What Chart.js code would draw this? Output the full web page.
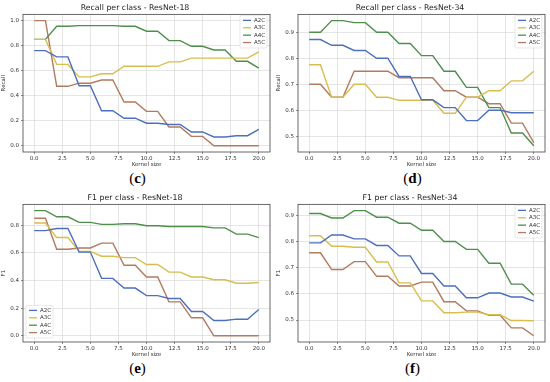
<!DOCTYPE html>
<html>
<head>
<meta charset="utf-8">
<script src="https://cdn.jsdelivr.net/npm/chart.js@4"></script>
<style>
  body { margin: 0; background: #fff; }
  .panel { position: absolute; width: 275px; height: 191px; }
  .panel canvas { position: absolute; left: 0; top: 0; }
  .tag { position: absolute; width: 275px; text-align: center; top: 170px; line-height: 16px;
         font-family: "Liberation Serif", serif; font-size: 15px; color: #000; }
</style>
</head>
<body>
<div class="panel" style="left:0;top:0"><canvas id="c1" width="275" height="168"></canvas><div class="tag">(<b>c</b>)</div></div>
<div class="panel" style="left:275px;top:0"><canvas id="c2" width="275" height="168"></canvas><div class="tag">(<b>d</b>)</div></div>
<div class="panel" style="left:0;top:190px"><canvas id="c3" width="275" height="168"></canvas><div class="tag">(<b>e</b>)</div></div>
<div class="panel" style="left:275px;top:190px"><canvas id="c4" width="275" height="168"></canvas><div class="tag">(<b>f</b>)</div></div>
<script>
const kernelSizes = [0, 1, 2, 3, 4, 5, 6, 7, 8, 9, 10, 11, 12, 13, 14, 15, 16, 17, 18, 19, 20];
const classes = ['A2C', 'A3C', 'A4C', 'A5C'];
const xTicks = [0, 2.5, 5, 7.5, 10, 12.5, 15, 17.5, 20];
const yTicksUnit = [0, 0.2, 0.4, 0.6, 0.8, 1.0];
const yTicksF1 = [0, 0.2, 0.4, 0.6, 0.8];
const yTicksHigh = [0.5, 0.6, 0.7, 0.8, 0.9];

// Recall - ResNet-18
const recall18A2C = [0.76, 0.76, 0.71, 0.71, 0.48, 0.48, 0.28, 0.28, 0.22, 0.22, 0.18, 0.18, 0.17, 0.17, 0.11, 0.11, 0.07, 0.07, 0.08, 0.08, 0.13];
const recall18A3C = [0.85, 0.85, 0.65, 0.65, 0.55, 0.55, 0.575, 0.575, 0.635, 0.635, 0.635, 0.635, 0.67, 0.67, 0.70, 0.70, 0.70, 0.70, 0.70, 0.70, 0.75];
const recall18A4C = [0.85, 0.85, 0.955, 0.955, 0.96, 0.96, 0.96, 0.96, 0.955, 0.955, 0.915, 0.915, 0.84, 0.84, 0.795, 0.795, 0.765, 0.765, 0.675, 0.675, 0.62];
const recall18A5C = [1.0, 1.0, 0.475, 0.475, 0.50, 0.50, 0.525, 0.525, 0.35, 0.35, 0.275, 0.275, 0.15, 0.15, 0.075, 0.075, 0, 0, 0, 0, 0];

// Recall - ResNet-34
const recall34A2C = [0.872, 0.872, 0.85, 0.85, 0.83, 0.83, 0.80, 0.80, 0.73, 0.73, 0.64, 0.64, 0.61, 0.61, 0.56, 0.56, 0.60, 0.60, 0.59, 0.59, 0.59];
const recall34A3C = [0.775, 0.775, 0.65, 0.65, 0.70, 0.70, 0.65, 0.65, 0.638, 0.638, 0.638, 0.638, 0.588, 0.588, 0.65, 0.65, 0.675, 0.675, 0.713, 0.713, 0.75];
const recall34A4C = [0.90, 0.90, 0.945, 0.945, 0.937, 0.937, 0.90, 0.90, 0.857, 0.857, 0.81, 0.81, 0.75, 0.75, 0.688, 0.688, 0.61, 0.61, 0.512, 0.512, 0.463];
const recall34A5C = [0.70, 0.70, 0.65, 0.65, 0.75, 0.75, 0.75, 0.75, 0.725, 0.725, 0.725, 0.725, 0.675, 0.675, 0.65, 0.65, 0.625, 0.625, 0.55, 0.55, 0.475];

// F1 - ResNet-18
const f118A2C = [0.76, 0.76, 0.775, 0.775, 0.605, 0.605, 0.415, 0.415, 0.345, 0.345, 0.29, 0.29, 0.27, 0.27, 0.175, 0.175, 0.11, 0.11, 0.12, 0.12, 0.19];
const f118A3C = [0.815, 0.815, 0.71, 0.71, 0.61, 0.61, 0.575, 0.575, 0.565, 0.565, 0.515, 0.515, 0.46, 0.46, 0.425, 0.425, 0.405, 0.405, 0.38, 0.38, 0.385];
const f118A4C = [0.905, 0.905, 0.86, 0.86, 0.82, 0.82, 0.805, 0.805, 0.81, 0.81, 0.795, 0.795, 0.79, 0.79, 0.79, 0.79, 0.78, 0.78, 0.735, 0.735, 0.71];
const f118A5C = [0.85, 0.85, 0.625, 0.625, 0.635, 0.635, 0.67, 0.67, 0.51, 0.51, 0.425, 0.425, 0.245, 0.245, 0.13, 0.13, 0, 0, 0, 0, 0];

// F1 - ResNet-34
const f134A2C = [0.795, 0.795, 0.825, 0.825, 0.81, 0.81, 0.785, 0.785, 0.745, 0.745, 0.678, 0.678, 0.63, 0.63, 0.585, 0.585, 0.603, 0.603, 0.588, 0.588, 0.572];
const f134A3C = [0.822, 0.822, 0.782, 0.782, 0.778, 0.778, 0.722, 0.722, 0.642, 0.642, 0.573, 0.573, 0.528, 0.528, 0.53, 0.53, 0.52, 0.52, 0.498, 0.498, 0.497];
const f134A4C = [0.907, 0.907, 0.89, 0.89, 0.918, 0.918, 0.893, 0.893, 0.87, 0.87, 0.843, 0.843, 0.80, 0.80, 0.77, 0.77, 0.717, 0.717, 0.637, 0.637, 0.595];
const f134A5C = [0.757, 0.757, 0.693, 0.693, 0.723, 0.723, 0.667, 0.667, 0.63, 0.63, 0.645, 0.645, 0.57, 0.57, 0.535, 0.535, 0.518, 0.518, 0.47, 0.47, 0.44];

const colors = ['#4c6fbf', '#d9bd4f', '#4f8f4c', '#b27a5e'];
const font = 'DejaVu Sans';

// axes box like matplotlib spines
const frame = {
    id: 'frame',
    afterDraw(chart) {
        const a = chart.chartArea, ctx = chart.ctx;
        ctx.save();
        ctx.strokeStyle = '#444';
        ctx.lineWidth = 0.8;
        ctx.strokeRect(a.left, a.top, a.right - a.left, a.bottom - a.top);
        ctx.restore();
    }
};

// small legend drawn inside the plot area
const boxLegend = {
    id: 'boxLegend',
    afterDraw(chart, args, opts) {
        const a = chart.chartArea, ctx = chart.ctx;
        const rowH = 7.4, w = 27, h = chart.data.datasets.length * rowH + 3;
        let x = opts.corner === 'bl' ? a.left + 3 : a.right - w - 3;
        let y = opts.corner === 'bl' ? a.bottom - h - 4 : a.top + 1;
        ctx.save();
        ctx.fillStyle = 'rgba(255,255,255,0.85)';
        ctx.strokeStyle = '#d8d8d8';
        ctx.lineWidth = 0.6;
        ctx.beginPath();
        ctx.roundRect(x, y, w, h, 1.5);
        ctx.fill();
        ctx.stroke();
        ctx.font = '5.5px "' + font + '"';
        ctx.textBaseline = 'middle';
        chart.data.datasets.forEach((ds, i) => {
            const yy = y + 5 + i * rowH;
            ctx.strokeStyle = ds.borderColor;
            ctx.lineWidth = 1.3;
            ctx.beginPath();
            ctx.moveTo(x + 3, yy);
            ctx.lineTo(x + 11, yy);
            ctx.stroke();
            ctx.fillStyle = '#333';
            ctx.fillText(ds.label, x + 14, yy);
        });
        ctx.restore();
    }
};

function makeChart(id, title, yTitle, series, yMin, yMax, yTicks, corner) {
    return new Chart(document.getElementById(id), {
        type: 'line',
        data: {
            datasets: series.map((vals, i) => ({
                label: classes[i],
                data: kernelSizes.map((k, j) => ({ x: k, y: vals[j] })),
                borderColor: colors[i],
                borderWidth: 1.4,
                pointRadius: 0,
                tension: 0,
                fill: false
            }))
        },
        options: {
            responsive: false,
            animation: false,
            layout: { padding: { left: 0, right: 5, top: 0, bottom: 0 } },
            plugins: {
                legend: { display: false },
                tooltip: { enabled: false },
                title: {
                    display: true,
                    text: title,
                    color: '#222',
                    font: { family: font, size: 7.8, weight: 'normal' },
                    padding: { top: 3, bottom: 2 }
                },
                boxLegend: { corner: corner }
            },
            scales: {
                x: {
                    type: 'linear',
                    min: -1,
                    max: 21,
                    afterBuildTicks: s => { s.ticks = xTicks.map(v => ({ value: v })); },
                    afterFit: s => { s.height = 16; },
                    grid: { color: '#d4d4d4', lineWidth: 0.6, tickLength: 2, tickColor: '#444' },
                    border: { display: false },
                    ticks: {
                        color: '#333', padding: 1, maxRotation: 0,
                        font: { family: font, size: 5.5 },
                        callback: v => v.toFixed(1)
                    },
                    title: {
                        display: true, text: 'Kernel size', color: '#333',
                        font: { family: font, size: 5.5 }, padding: { top: 0, bottom: 0 }
                    }
                },
                y: {
                    min: yMin,
                    max: yMax,
                    afterBuildTicks: s => { s.ticks = yTicks.map(v => ({ value: v })); },
                    afterFit: s => { s.width = 23; },
                    grid: { color: '#d4d4d4', lineWidth: 0.6, tickLength: 2, tickColor: '#444' },
                    border: { display: false },
                    ticks: {
                        color: '#333', padding: 2,
                        font: { family: font, size: 5.5 },
                        callback: v => v.toFixed(1)
                    },
                    title: {
                        display: true, text: yTitle, color: '#333',
                        font: { family: font, size: 5.5 }, padding: { top: 0, bottom: 2 }
                    }
                }
            }
        },
        plugins: [frame, boxLegend]
    });
}

makeChart('c1', 'Recall per class - ResNet-18', 'Recall',
    [recall18A2C, recall18A3C, recall18A4C, recall18A5C], -0.05, 1.05, yTicksUnit, 'tr');
makeChart('c2', 'Recall per class - ResNet-34', 'Recall',
    [recall34A2C, recall34A3C, recall34A4C, recall34A5C], 0.439, 0.969, yTicksHigh, 'tr');
makeChart('c3', 'F1 per class - ResNet-18', 'F1',
    [f118A2C, f118A3C, f118A4C, f118A5C], -0.045, 0.95, yTicksF1, 'bl');
makeChart('c4', 'F1 per class - ResNet-34', 'F1',
    [f134A2C, f134A3C, f134A4C, f134A5C], 0.416, 0.942, yTicksHigh, 'tr');
</script>
</body>
</html>
